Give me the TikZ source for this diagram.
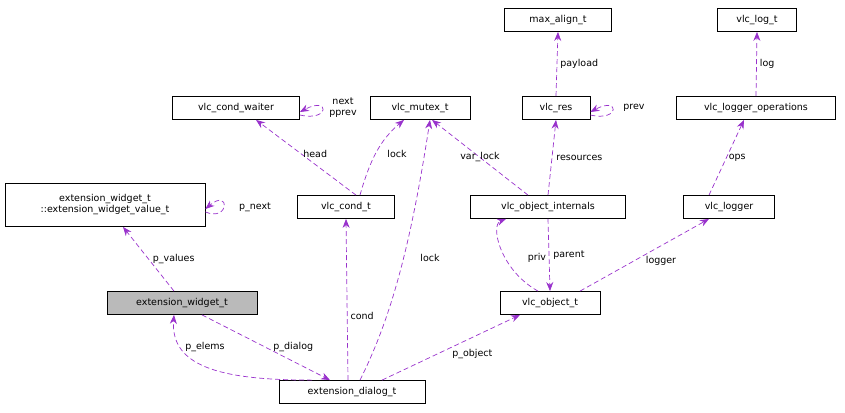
\documentclass[tikz,border=0pt]{standalone}
\usepackage{fontspec}
\setmainfont{DejaVu Sans}
\usetikzlibrary{arrows.meta,positioning}
\definecolor{edgepurple}{RGB}{153,50,204}
\tikzset{
  every node/.append style={font=\fontsize{9.5}{11}\selectfont},
  cls/.style={draw, line width=0.8pt, inner sep=0pt, minimum height=23pt, align=center},
  use/.style={draw=edgepurple, dashed, line width=0.7pt, dash pattern=on 5pt off 3pt,
    -{Stealth[length=9pt,width=7pt,fill=edgepurple]}},
  lbl/.style={inner sep=1pt}
}
\begin{document}
\begin{tikzpicture}[x=1pt,y=-1pt]
\useasboundingbox (0,0) rectangle (845,412);
% classes
\node[cls, minimum width=107pt] (maxalign) at (558,20) {max\_align\_t};
\node[cls, minimum width=79pt] (logt) at (757,20) {vlc\_log\_t};
\node[cls, minimum width=127pt] (waiter) at (236,108) {vlc\_cond\_waiter};
\node[cls, minimum width=100pt] (mutex) at (420,108) {vlc\_mutex\_t};
\node[cls, minimum width=68pt] (res) at (556,108) {vlc\_res};
\node[cls, minimum width=159pt] (logops) at (756,108) {vlc\_logger\_operations};
\node[cls, minimum width=200pt, minimum height=43pt] (wvalue) at (105,205) {extension\_widget\_t\\::extension\_widget\_value\_t};
\node[cls, minimum width=97pt] (cond) at (346,207) {vlc\_cond\_t};
\node[cls, minimum width=155pt] (internals) at (548,207) {vlc\_object\_internals};
\node[cls, minimum width=91pt] (logger) at (729,207) {vlc\_logger};
\node[cls, minimum width=150pt, fill=black!27] (widget) at (182,303) {extension\_widget\_t};
\node[cls, minimum width=100pt] (object) at (550,303) {vlc\_object\_t};
\node[cls, minimum width=146pt] (dialog) at (352,392) {extension\_dialog\_t};

% connectors
\draw[use] (res.north) -- node[lbl, right=2pt] {payload} (maxalign.south);
\draw[use] (logops.north) -- node[lbl, right=2pt] {log} (logt.south);
\draw[use] ([yshift=-7pt]waiter.east) .. controls (330,122) and (330,96) .. ([yshift=-4pt]waiter.east);
\node[lbl, align=center] at (343,108) {next\\pprev};
\draw[use] ([yshift=-7pt]res.east) .. controls (620,122) and (620,96) .. ([yshift=-4pt]res.east);
\node[lbl] at (634,108) {prev};
\draw[use] ([yshift=-7pt]wvalue.east) .. controls (230,222) and (230,188) .. ([yshift=-4pt]wvalue.east);
\node[lbl] at (255,207) {p\_next};
\draw[use] ([xshift=10pt]cond.north) -- node[lbl, right=1pt, pos=0.55] {head} ([xshift=20pt]waiter.south);
\draw[use] ([xshift=14pt]cond.north) .. controls (370,160) and (380,140) .. ([xshift=-16pt]mutex.south);
\node[lbl] at (397,154) {lock};
\draw[use] ([xshift=8pt]dialog.north) .. controls (390,320) and (410,250) .. ([xshift=10pt]mutex.south);
\node[lbl] at (430,258) {lock};
\draw[use] ([xshift=-20pt]internals.north) -- node[lbl, pos=0.5, xshift=0pt] (vl) {var\_lock} ([xshift=12pt]mutex.south);
\draw[use] (internals.north) -- node[lbl, right=3pt] {resources} (res.south);
\draw[use] ([xshift=-20pt]logger.north) -- node[lbl, right=1pt] {ops} ([xshift=-12pt]logops.south);
\draw[use] ([xshift=-8pt]widget.north) -- node[lbl, right=3pt] {p\_values} ([xshift=18pt]wvalue.south);
\draw[use] ([xshift=-4pt]dialog.north) -- node[lbl, right=2pt, pos=0.4] {cond} (cond.south);
\draw[use] ([xshift=-12pt]object.north) .. controls (500,270) and (490,225) .. ([xshift=-42pt]internals.south);
\node[lbl] at (537,258) {priv};
\draw[use] (internals.south) -- node[lbl, right=3pt] {parent} (object.north);
\draw[use] ([xshift=30pt]object.north) -- node[lbl, below right=0pt] {logger} ([xshift=-20pt]logger.south);
\draw[use] ([xshift=-40pt]dialog.north) .. controls (230,380) and (170,370) .. ([xshift=-8pt]widget.south);
\node[lbl] at (205,347) {p\_elems};
\draw[use] ([xshift=20pt]widget.south) -- node[lbl, right=6pt] {p\_dialog} ([xshift=-22pt]dialog.north);
\draw[use] ([xshift=30pt]dialog.north) -- node[lbl, below right=0pt] {p\_object} ([xshift=-30pt]object.south);
\end{tikzpicture}
\end{document}
